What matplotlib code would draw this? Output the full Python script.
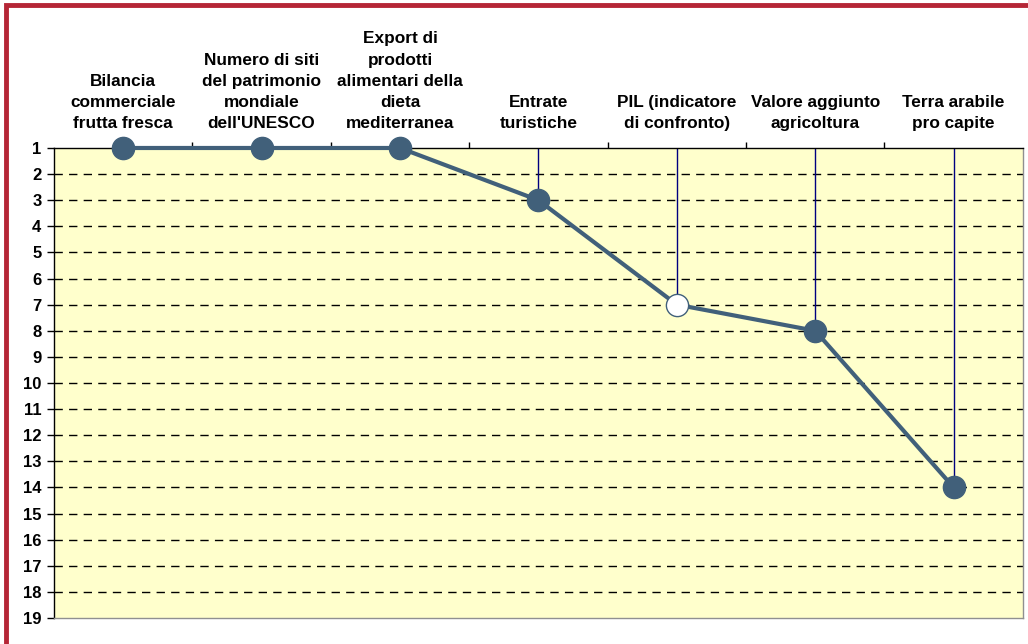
import matplotlib.pyplot as plt
from matplotlib.patches import Rectangle

plt.rcParams['font.family'] = ['Liberation Sans', 'DejaVu Sans']

categories = [
    "Bilancia\ncommerciale\nfrutta fresca",
    "Numero di siti\ndel patrimonio\nmondiale\ndell'UNESCO",
    "Export di\nprodotti\nalimentari della\ndieta\nmediterranea",
    "Entrate\nturistiche",
    "PIL (indicatore\ndi confronto)",
    "Valore aggiunto\nagricoltura",
    "Terra arabile\npro capite",
]
ranks = [1, 1, 1, 3, 7, 8, 14]
highlight = 4  # PIL, drawn as white marker
y_ticks = list(range(1, 20))

line_col = '#41607a'
x = list(range(len(categories)))

fig = plt.figure(figsize=(10.28, 6.44), dpi=100)
ax = fig.add_axes([0.0525, 0.0404, 0.9425, 0.7298])
ax.set_facecolor('#ffffcc')

# red frame on the top and left of the figure
fig.patches.append(Rectangle((0.0058, -0.05), 1.2, 1.043, transform=fig.transFigure,
                             fill=False, edgecolor='#b52636', linewidth=3.5))

for y in y_ticks[1:-1]:
    ax.axhline(y, color='black', linewidth=1, linestyle=(0, (6, 4.5)), zorder=1)

ax.vlines(x, 1, ranks, color='#000080', linewidth=1, zorder=2)
ax.plot(x, ranks, color=line_col, linewidth=3, zorder=3, clip_on=False)
for i, r in enumerate(ranks):
    face = 'white' if i == highlight else line_col
    ax.plot(i, r, 'o', markersize=16, markerfacecolor=face,
            markeredgecolor=line_col, markeredgewidth=1, zorder=4, clip_on=False)

ax.set_xlim(-0.5, len(categories) - 0.5)
ax.set_ylim(19, 1)
ax.set_yticks(y_ticks)
ax.set_yticklabels([str(v) for v in y_ticks], fontsize=12, fontweight='bold')
ax.tick_params(axis='y', length=5, width=1, pad=4)

ax.xaxis.tick_top()
ax.set_xticks(x)
ax.set_xticklabels(categories, fontsize=12.4, fontweight='bold', linespacing=1.52)
ax.set_xticks([i + 0.5 for i in x[:-1]], minor=True)
ax.tick_params(axis='x', which='major', length=0, pad=12)
ax.tick_params(axis='x', which='minor', length=4, width=1, direction='out', top=True)

ax.spines['left'].set_color('black')
ax.spines['top'].set_color('black')
ax.spines['right'].set_color('#909090')
ax.spines['bottom'].set_color('#909090')
for s in ax.spines.values():
    s.set_linewidth(1)

fig.savefig('out.png', dpi=100)
